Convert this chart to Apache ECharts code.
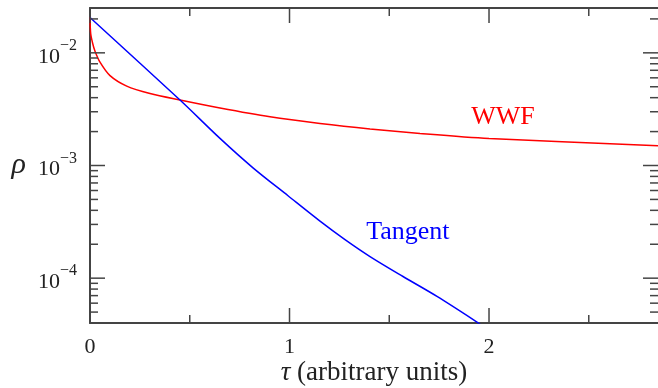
<!DOCTYPE html>
<html style="height: 100%">
<head>
<meta charset="utf-8">
<script src="https://cdn.jsdelivr.net/npm/echarts@6/dist/echarts.min.js"></script>
</head>
<body style="height: 100%; margin: 0; background: #fff">
<div id="container" style="width: 658px; height: 388px"></div>
<script type="text/javascript">
// WWF curve (red)
var tauWWF = [0, 0.0035, 0.0135, 0.0251, 0.0501, 0.1003, 0.184, 0.3008, 0.4511, 0.6516, 0.9023, 1.1529, 1.4035, 1.6541, 2.0, 2.847];
var rhoWWF = [0.02083, 0.01485, 0.01211, 0.01035, 0.00827, 0.00628, 0.00507, 0.004355, 0.003814, 0.00324, 0.002708, 0.002363, 0.002113, 0.001928, 0.00174, 0.001494];
// Tangent curve (blue)
var tauTan = [0, 0.4511, 0.6516, 0.817, 0.9925, 1.1529, 1.2782, 1.4035, 1.5689, 1.7393, 1.9398, 1.955];
var rhoTan = [0.02057, 0.003814, 0.00174, 0.000954, 0.000539, 0.000321, 0.00022, 0.0001556, 0.0001035, 0.0000689, 0.0000408, 0.0000389];

// ticks
var tauMajor = [0, 1, 2];
var tauMinor = [0.5, 1.5, 2.5];
var rhoMajor = [1e-4, 1e-3, 1e-2];
var rhoMinor = [5e-5, 6e-5, 7e-5, 8e-5, 9e-5,
                2e-4, 3e-4, 4e-4, 5e-4, 6e-4, 7e-4, 8e-4, 9e-4,
                2e-3, 3e-3, 4e-3, 5e-3, 6e-3, 7e-3, 8e-3, 9e-3, 2e-2];

var tauMax = 2.847, rhoMin = 4e-5, rhoMax = 0.025;
var serif = 'Liberation Serif';
var axisColor = '#444';

function zip(a, b) {
    var res = [];
    for (var i = 0; i < a.length; i++) res.push([a[i], b[i]]);
    return res;
}

// tick data: [tau, rho, kind] kind 0 x major, 1 x minor, 2 y major, 3 y minor
var tickData = [];
tauMajor.forEach(function (t) { tickData.push([t, rhoMin, 0]); });
tauMinor.forEach(function (t) { tickData.push([t, rhoMin, 1]); });
rhoMajor.forEach(function (r) { tickData.push([0, r, 2]); });
rhoMinor.forEach(function (r) { tickData.push([0, r, 3]); });

function renderTick(params, api) {
    var cs = params.coordSys;
    var kind = api.value(2);
    var p = api.coord([api.value(0), api.value(1)]);
    var len = (kind === 0 || kind === 2) ? 15 : 8;
    var style = { stroke: axisColor, lineWidth: 1.5 };
    var lines;
    if (kind < 2) {
        lines = [
            { x1: p[0], y1: cs.y + cs.height, x2: p[0], y2: cs.y + cs.height - len },
            { x1: p[0], y1: cs.y, x2: p[0], y2: cs.y + len }
        ];
    } else {
        lines = [
            { x1: cs.x, y1: p[1], x2: cs.x + len, y2: p[1] },
            { x1: cs.x + cs.width, y1: p[1], x2: cs.x + cs.width - len, y2: p[1] }
        ];
    }
    return {
        type: 'group',
        children: lines.map(function (s) { return { type: 'line', shape: s, style: style }; })
    };
}

var myChart = echarts.init(document.getElementById('container'));
var option = {
    animation: false,
    backgroundColor: '#fff',
    grid: { left: 90, top: 8, right: 0, bottom: 65, outerBoundsMode: 'none', containLabel: false },
    xAxis: [{
        type: 'value',
        min: 0,
        max: tauMax,
        interval: 1,
        axisLine: { show: true, lineStyle: { color: axisColor, width: 2 } },
        axisTick: { show: false },
        splitLine: { show: false },
        axisLabel: {
            margin: 13,
            fontFamily: serif,
            fontSize: 22,
            color: '#222',
            formatter: function (v) { return Math.abs(v - Math.round(v)) < 1e-9 ? String(v) : ''; }
        },
        name: '{i|τ} (arbitrary units)',
        nameLocation: 'middle',
        nameGap: 36,
        nameMoveOverlap: false,
        nameTextStyle: {
            fontFamily: serif, fontSize: 27, color: '#222',
            rich: { i: { fontFamily: serif, fontSize: 27, fontStyle: 'italic', color: '#222' } }
        }
    }, {
        type: 'value',
        position: 'top',
        min: 0,
        max: 1,
        axisLine: { show: true, lineStyle: { color: axisColor, width: 2 } },
        axisTick: { show: false },
        axisLabel: { show: false },
        splitLine: { show: false }
    }],
    yAxis: {
        type: 'log',
        logBase: 10,
        min: rhoMin,
        max: rhoMax,
        axisLine: { show: true, lineStyle: { color: axisColor, width: 2 } },
        axisTick: { show: false },
        splitLine: { show: false },
        axisLabel: {
            margin: 13,
            color: '#222',
            formatter: function (v) {
                var e = Math.log10(v);
                if (Math.abs(e - Math.round(e)) > 1e-6) return '';
                return '{b|10}{s|\u2212' + (-Math.round(e)) + '}';
            },
            rich: {
                b: { fontFamily: serif, fontSize: 22, color: '#222', lineHeight: 30, verticalAlign: 'bottom' },
                s: { fontFamily: serif, fontSize: 16, color: '#222', lineHeight: 16, verticalAlign: 'top' }
            }
        },
        name: 'ρ',
        nameLocation: 'middle',
        nameGap: 64,
        nameRotate: 0,
        nameMoveOverlap: false,
        nameTextStyle: { fontFamily: serif, fontSize: 30, fontStyle: 'italic', color: '#222', padding: [0, 0, 10, 0] }
    },
    series: [
        {
            name: 'WWF',
            type: 'line',
            data: zip(tauWWF, rhoWWF),
            showSymbol: false,
            smooth: 0.3,
            lineStyle: { color: '#ff0000', width: 1.5 },
            markPoint: {
                symbol: 'circle',
                symbolSize: 1,
                itemStyle: { color: 'rgba(0,0,0,0)' },
                label: { show: true, position: 'inside', formatter: 'WWF', color: '#ff0000', fontFamily: serif, fontSize: 26 },
                data: [{ coord: [2.07, 2.67e-3] }]
            }
        },
        {
            name: 'Tangent',
            type: 'line',
            data: zip(tauTan, rhoTan),
            showSymbol: false,
            smooth: 0.3,
            lineStyle: { color: '#0000ff', width: 1.5 },
            markPoint: {
                symbol: 'circle',
                symbolSize: 1,
                itemStyle: { color: 'rgba(0,0,0,0)' },
                label: { show: true, position: 'inside', formatter: 'Tangent', color: '#0000ff', fontFamily: serif, fontSize: 26 },
                data: [{ coord: [1.593, 2.535e-4] }]
            }
        },
        {
            type: 'custom',
            renderItem: renderTick,
            data: tickData,
            silent: true,
            z: 5
        }
    ]
};
myChart.setOption(option);
</script>
</body>
</html>
